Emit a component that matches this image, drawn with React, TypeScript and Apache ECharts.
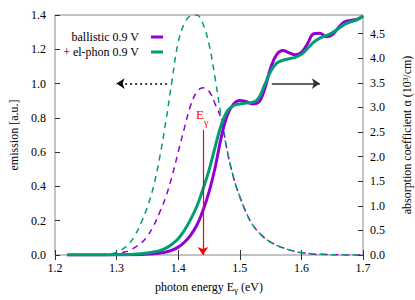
import React, { useEffect, useRef } from "react";
import * as echarts from "echarts";

// photon energy grid for emission (eV)
const emissionEnergy = [
  1.22, 1.24, 1.26, 1.28, 1.29, 1.3, 1.31, 1.32, 1.33, 1.34, 1.35, 1.36, 1.37, 1.38,
  1.39, 1.4, 1.41, 1.42, 1.43, 1.44, 1.45, 1.46, 1.47, 1.48, 1.49, 1.5, 1.51, 1.52,
  1.53, 1.54, 1.55, 1.56, 1.57, 1.58, 1.59, 1.6, 1.62, 1.64, 1.66, 1.7,
];
// emission [a.u.]
const emissionBallistic = [
  0, 0, 0.001, 0.003, 0.005, 0.008, 0.015, 0.025, 0.045, 0.07, 0.11, 0.17, 0.25, 0.34,
  0.46, 0.6, 0.74, 0.87, 0.95, 0.975, 0.955, 0.88, 0.79, 0.6, 0.45, 0.34, 0.25, 0.18,
  0.135, 0.1, 0.075, 0.056, 0.042, 0.03, 0.021, 0.014, 0.006, 0.003, 0.001, 0,
];
const emissionElPhon = [
  0, 0.001, 0.002, 0.004, 0.007, 0.015, 0.035, 0.065, 0.115, 0.19, 0.28, 0.4, 0.57, 0.78,
  1.02, 1.24, 1.35, 1.395, 1.4, 1.35, 1.23, 1.03, 0.8, 0.6, 0.45, 0.34, 0.25, 0.18,
  0.135, 0.1, 0.075, 0.056, 0.042, 0.03, 0.021, 0.014, 0.006, 0.003, 0.001, 0,
];

// photon energy grid for absorption (eV)
const absorptionEnergy = [
  1.22, 1.26, 1.3, 1.32, 1.34, 1.36, 1.37, 1.38, 1.39, 1.4, 1.41, 1.42, 1.43, 1.44,
  1.45, 1.46, 1.47, 1.48, 1.49, 1.5, 1.51, 1.52, 1.53, 1.54, 1.55, 1.56, 1.57, 1.58,
  1.59, 1.6, 1.61, 1.62, 1.63, 1.64, 1.65, 1.66, 1.67, 1.68, 1.69, 1.7,
];
// absorption coefficient (10^3/cm)
const absorptionBallistic = [
  0, 0.001, 0.003, 0.006, 0.012, 0.025, 0.04, 0.06, 0.1, 0.16, 0.26, 0.4, 0.6, 0.9,
  1.28, 1.78, 2.4, 2.85, 3.07, 3.14, 3.12, 3.07, 3.1, 3.36, 3.8, 4.08, 4.16, 4.11,
  4.07, 4.12, 4.3, 4.5, 4.51, 4.44, 4.48, 4.62, 4.74, 4.77, 4.79, 4.86,
];
const absorptionElPhon = [
  0, 0.001, 0.004, 0.01, 0.025, 0.06, 0.09, 0.14, 0.22, 0.33, 0.5, 0.72, 0.98, 1.33,
  1.72, 2.2, 2.65, 2.93, 3.04, 3.07, 3.09, 3.1, 3.18, 3.45, 3.73, 3.9, 3.96, 3.99,
  4.02, 4.08, 4.2, 4.33, 4.41, 4.46, 4.52, 4.6, 4.69, 4.74, 4.78, 4.86,
];

const seriesNames = ["ballistic 0.9 V", "+ el-phon 0.9 V"];
const xTicks = { min: 1.2, max: 1.7, step: 0.1 };
const leftTicks = { min: 0, max: 1.4, step: 0.2 };
const rightTicks = { min: 0, max: 4.88, step: 0.5 };

// annotations (data coordinates)
const emissionArrow = { from: [1.382, 1.0], to: [1.3, 1.0] };
const absorptionArrow = { from: [1.552, 1.0], to: [1.63, 1.0] };
const gammaArrow = { from: [1.44, 0.73], to: [1.44, 0] };

const PURPLE = "#9400d3";
const GREEN = "#009e73";
const FONT = "'Liberation Serif', 'Times New Roman', Times, 'DejaVu Serif', serif";

const zip = (xs: number[], ys: number[]) => xs.map((x, i) => [x, ys[i]]);

export default function App() {
  const ref = useRef<HTMLDivElement>(null);
  useEffect(() => {
    document.body.style.margin = "0";
    const chart = echarts.init(ref.current!, null, { renderer: "svg" });
    const tickStyle = { show: true, inside: true, length: 5, lineStyle: { color: "#333", width: 1 } };
    const labelStyle = { color: "#000", fontFamily: FONT, fontSize: 12 };
    const dashed = [6, 5];
    chart.setOption({
      animation: false,
      textStyle: { fontFamily: FONT },
      grid: {
        left: 55, right: 52, top: 15, bottom: 45, show: true, borderColor: "#888", borderWidth: 1,
        containLabel: false, outerBoundsMode: "none",
      },
      legend: [
        {
          data: [seriesNames[0]], right: 252, top: 31, padding: 0, align: "right",
          icon: "rect", itemWidth: 12, itemHeight: 3,
          textStyle: { ...labelStyle, padding: [0, 7, 0, 0] },
        },
        {
          data: [seriesNames[1]], right: 252, top: 46, padding: 0, align: "right",
          icon: "rect", itemWidth: 12, itemHeight: 3,
          textStyle: { ...labelStyle, padding: [0, 7, 0, 0] },
        },
      ],
      xAxis: [
        {
          type: "value", min: xTicks.min, max: xTicks.max, interval: xTicks.step, position: "bottom",
          name: "photon energy E{sub|\u03b3} (eV)", nameLocation: "middle", nameGap: 24,
          nameTextStyle: {
            ...labelStyle,
            rich: { sub: { fontFamily: FONT, fontSize: 9, color: "#000", padding: [6, 0, 0, 0] } },
          },
          axisLine: { show: false }, axisTick: tickStyle, splitLine: { show: false },
          axisLabel: { ...labelStyle, margin: 7, formatter: (v: number) => v.toFixed(1) },
        },
        {
          type: "value", min: xTicks.min, max: xTicks.max, interval: xTicks.step, position: "top",
          axisLine: { show: false }, axisTick: tickStyle, splitLine: { show: false },
          axisLabel: { show: false },
        },
      ],
      yAxis: [
        {
          type: "value", min: leftTicks.min, max: leftTicks.max, interval: leftTicks.step, position: "left",
          name: "emission [a.u.]", nameLocation: "middle", nameGap: 34, nameTextStyle: labelStyle,
          axisLine: { show: false }, axisTick: tickStyle, splitLine: { show: false },
          axisLabel: { ...labelStyle, margin: 9, formatter: (v: number) => v.toFixed(1) },
        },
        {
          type: "value", min: rightTicks.min, max: rightTicks.max, interval: rightTicks.step, position: "right",
          name: "absorption coefficient \u03b1 (10\u00b3/cm)", nameLocation: "middle", nameGap: 38,
          nameTextStyle: labelStyle,
          axisLine: { show: false }, axisTick: tickStyle, splitLine: { show: false },
          axisLabel: { ...labelStyle, margin: 7, showMaxLabel: false, formatter: (v: number) => v.toFixed(1) },
        },
      ],
      series: [
        {
          name: "ballistic emission", type: "line", yAxisIndex: 0, symbol: "none", smooth: 0.4,
          data: zip(emissionEnergy, emissionBallistic),
          lineStyle: { color: PURPLE, width: 1.5, type: dashed }, itemStyle: { color: PURPLE },
        },
        {
          name: "el-phon emission", type: "line", yAxisIndex: 0, symbol: "none", smooth: 0.4,
          data: zip(emissionEnergy, emissionElPhon),
          lineStyle: { color: GREEN, width: 1.5, type: dashed }, itemStyle: { color: GREEN },
          markLine: {
            silent: true, animation: false, symbol: ["none", "arrow"], symbolSize: 8,
            label: { show: false }, emphasis: { disabled: true },
            data: [
              [{ coord: emissionArrow.from, lineStyle: { color: "#000", type: [2, 3], width: 1.5 } }, { coord: emissionArrow.to }],
              [{ coord: absorptionArrow.from, lineStyle: { color: "#333", type: "solid", width: 1.5 } }, { coord: absorptionArrow.to }],
              [{ coord: gammaArrow.from, lineStyle: { color: "#f00", type: "solid", width: 1.2 } }, { coord: gammaArrow.to }],
            ],
          },
        },
        {
          name: seriesNames[0], type: "line", yAxisIndex: 1, symbol: "none", smooth: 0.4,
          data: zip(absorptionEnergy, absorptionBallistic),
          lineStyle: { color: PURPLE, width: 3 }, itemStyle: { color: PURPLE },
        },
        {
          name: seriesNames[1], type: "line", yAxisIndex: 1, symbol: "none", smooth: 0.4,
          data: zip(absorptionEnergy, absorptionElPhon),
          lineStyle: { color: GREEN, width: 3 }, itemStyle: { color: GREEN },
        },
      ],
      graphic: [
        { type: "text", x: 196, y: 108, style: { text: "E", fill: "#f00", fontFamily: FONT, fontSize: 13 } },
        { type: "text", x: 204, y: 117, style: { text: "\u03b3", fill: "#f00", fontFamily: FONT, fontSize: 10 } },
      ],
    });
    return () => chart.dispose();
  }, []);
  return <div ref={ref} style={{ width: 415, height: 300 }} />;
}
